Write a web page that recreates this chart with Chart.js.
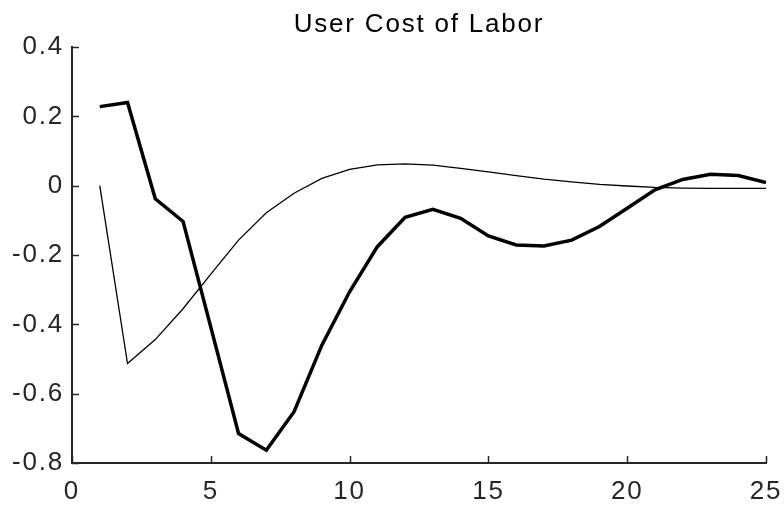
<!DOCTYPE html>
<html>
<head>
<meta charset="utf-8">
<script src="https://cdn.jsdelivr.net/npm/chart.js@4/dist/chart.umd.min.js"></script>
<style>
  html, body { margin: 0; padding: 0; background: #fff; }
  canvas { display: block; }
</style>
</head>
<body>
<canvas id="ucl" width="784" height="505"></canvas>
<script>
const chartTitle = 'User Cost of Labor';
const horizons = [1, 2, 3, 4, 5, 6, 7, 8, 9, 10, 11, 12, 13, 14, 15, 16, 17, 18, 19, 20, 21, 22, 23, 24, 25];
const thickLine = [0.228, 0.240, -0.038, -0.103, -0.408, -0.715, -0.763, -0.652, -0.460, -0.306,
  -0.176, -0.091, -0.068, -0.094, -0.145, -0.171, -0.174, -0.157, -0.118, -0.065,
  -0.012, 0.018, 0.033, 0.029, 0.009];
const thinLine = [0, -0.513, -0.444, -0.355, -0.255, -0.157, -0.078, -0.022, 0.021, 0.047,
  0.060, 0.063, 0.059, 0.050, 0.040, 0.029, 0.019, 0.011, 0.004, -0.001,
  -0.005, -0.007, -0.008, -0.008, -0.008];
const xTicks = [0, 5, 10, 15, 20, 25];
const yTicks = [-0.8, -0.6, -0.4, -0.2, 0, 0.2, 0.4];

const axisColor = '#262626';
const tickFont = { family: '"Liberation Sans", Arial, sans-serif', size: 26 };

const toPoints = (ys) => horizons.map((h, i) => ({ x: h, y: ys[i] }));

// wider letter spacing, the original text looks stretched sideways
const spacing = {
  id: 'spacing',
  beforeDraw(chart) {
    chart.ctx.letterSpacing = '1.8px';
  }
};

// small tick marks pointing into the plot, plus the title
const extras = {
  id: 'extras',
  afterDraw(chart) {
    const { ctx, chartArea, scales } = chart;
    ctx.save();
    ctx.strokeStyle = axisColor;
    ctx.lineWidth = 1.5;
    ctx.beginPath();
    xTicks.forEach(v => {
      const px = Math.round(scales.x.getPixelForValue(v)) + 0.5;
      ctx.moveTo(px, chartArea.bottom);
      ctx.lineTo(px, chartArea.bottom - 7);
    });
    yTicks.forEach(v => {
      const py = Math.round(scales.y.getPixelForValue(v)) + 0.5;
      ctx.moveTo(chartArea.left, py);
      ctx.lineTo(chartArea.left + 7, py);
    });
    ctx.stroke();

    ctx.letterSpacing = '1.8px';
    ctx.font = '26px "Liberation Sans", Arial, sans-serif';
    ctx.fillStyle = '#000';
    ctx.textAlign = 'center';
    ctx.textBaseline = 'alphabetic';
    ctx.fillText(chartTitle, (chartArea.left + chartArea.right) / 2, 32);
    ctx.restore();
  }
};

new Chart(document.getElementById('ucl'), {
  type: 'line',
  data: {
    datasets: [
      {
        data: toPoints(thickLine),
        borderColor: '#000',
        borderWidth: 3.5,
        pointRadius: 0,
        tension: 0,
        fill: false
      },
      {
        data: toPoints(thinLine),
        borderColor: '#000',
        borderWidth: 1.3,
        pointRadius: 0,
        tension: 0,
        fill: false
      }
    ]
  },
  options: {
    responsive: false,
    animation: false,
    layout: { padding: { top: 47, right: 18, left: 0, bottom: 0 } },
    plugins: {
      legend: { display: false },
      tooltip: { enabled: false },
      title: { display: false }
    },
    scales: {
      x: {
        type: 'linear',
        min: 0,
        max: 25,
        afterFit: (s) => { s.height = 42; s.paddingLeft = 0; s.paddingRight = 0; },
        afterBuildTicks: (s) => { s.ticks = xTicks.map(v => ({ value: v })); },
        border: { display: true, color: axisColor, width: 2 },
        grid: { display: false, drawTicks: false, tickLength: 0 },
        ticks: { color: axisColor, font: tickFont, padding: 13, maxRotation: 0, callback: (v) => String(v) }
      },
      y: {
        type: 'linear',
        min: -0.8,
        max: 0.4,
        afterFit: (s) => { s.width = 72; s.paddingTop = 0; s.paddingBottom = 0; },
        afterBuildTicks: (s) => { s.ticks = yTicks.map(v => ({ value: v })); },
        border: { display: true, color: axisColor, width: 2 },
        grid: { display: false, drawTicks: false, tickLength: 0 },
        ticks: { color: axisColor, font: tickFont, padding: 8, callback: (v) => String(Math.round(v * 10) / 10) }
      }
    }
  },
  plugins: [spacing, extras]
});
</script>
</body>
</html>
